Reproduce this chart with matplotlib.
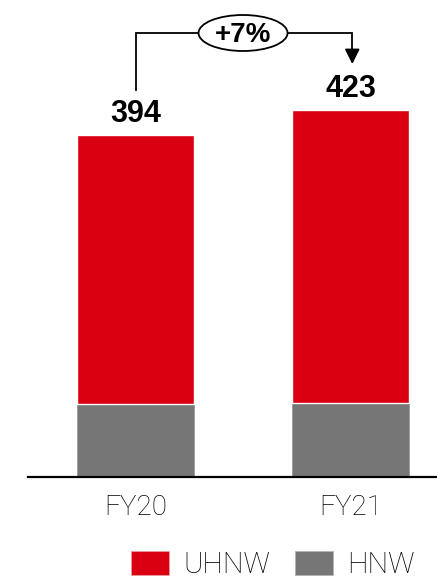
"""
stacked bars of client assets by segment, FY20 vs FY21
"""
import numpy as np
import matplotlib.pyplot as plt
from matplotlib.patches import Ellipse, Patch

years = ['FY20', 'FY21']
hnw = [84, 85]
uhnw = [310, 338]
totals = [394, 423]
growth_label = '+7%'

RED = '#DA0011'
GREY = '#767676'


def main():
    plt.rcParams['font.family'] = ['Liberation Sans', 'DejaVu Sans']
    fig = plt.figure(figsize=(4.37, 5.78), dpi=100)
    W, H = 437, 578
    base_px = 477          # baseline, pixels from top
    ax = fig.add_axes([28 / W, (H - base_px) / H, 1 - 28 / W, base_px / H])

    scale = totals[0] / 342.0   # data units per pixel
    ax.set_ylim(0, base_px * scale)
    ax.set_xlim(-0.5, 1.402)
    x = np.arange(len(years))
    width = 0.544

    ax.bar(x, hnw, width, color=GREY, edgecolor='#9a9a9a', linewidth=0.6)
    ax.bar(x, uhnw, width, bottom=hnw, color=RED, edgecolor='white', linewidth=1.0)

    for xi, t in zip(x, totals):
        ax.annotate(str(t), (xi, t), xytext=(0, 4), textcoords='offset points',
                    ha='center', va='bottom', fontsize=22, fontweight='bold')

    # growth bracket
    def px2y(py):
        return (base_px - py) * scale
    top = px2y(33)
    ax.plot([x[0], x[0], x[1] + 0.008, x[1] + 0.008],
            [px2y(90), top, top, px2y(52)], color='black', lw=1.3,
            solid_joinstyle='miter', clip_on=False, zorder=3)
    ax.annotate('', xy=(x[1] + 0.008, px2y(64)), xytext=(x[1] + 0.008, px2y(50)),
                arrowprops=dict(arrowstyle='-|>,head_length=0.9,head_width=0.45',
                                color='black', lw=1.3, shrinkA=0, shrinkB=0),
                annotation_clip=False)
    ell = Ellipse((0.5, top), 89 / 215, 36 * scale, facecolor='white',
                  edgecolor='black', lw=1.3, zorder=4, clip_on=False)
    ax.add_patch(ell)
    ax.text(0.5, top - 1.5 * scale, growth_label, ha='center', va='center',
            fontsize=20, fontweight='bold', zorder=5)

    ax.set_xticks(x)
    ax.set_xticklabels(years, fontsize=20, fontfamily='Roboto', fontweight='light')
    ax.tick_params(axis='x', length=0, pad=12)
    ax.set_yticks([])
    for s in ['top', 'right', 'left']:
        ax.spines[s].set_visible(False)
    ax.spines['bottom'].set_linewidth(1.6)

    handles = [Patch(facecolor=RED, edgecolor='#e8a0a0', lw=0.5),
               Patch(facecolor=GREY, edgecolor='#b0b0b0', lw=0.5)]
    fig.legend(handles, ['UHNW', 'HNW'], loc='lower right', ncol=2,
               bbox_to_anchor=(0.962, -0.012), frameon=False,
               prop=dict(family='Roboto', weight='light', size=21),
               handlelength=1.3, handleheight=0.86, handletextpad=0.48,
               columnspacing=0.86, borderpad=0.2, borderaxespad=0)

    fig.savefig('out.png', dpi=100)


if __name__ == '__main__':
    main()
